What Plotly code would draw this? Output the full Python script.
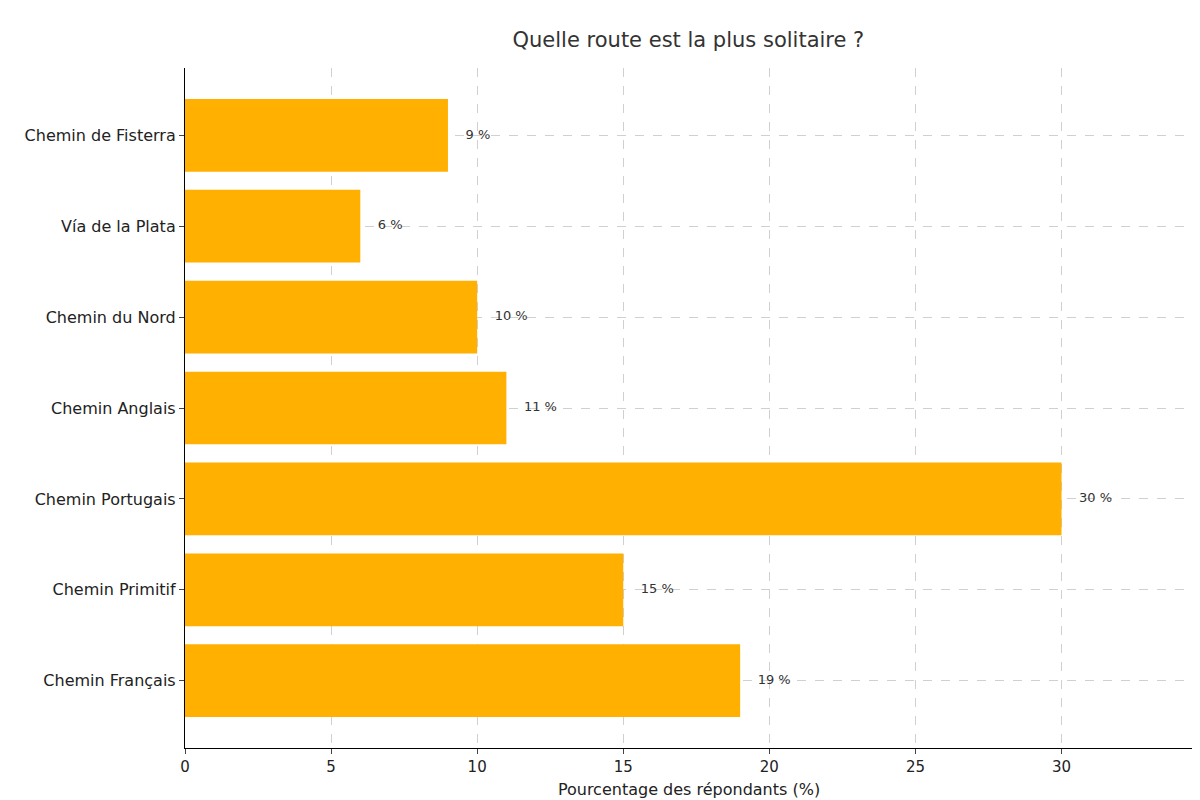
import plotly.graph_objects as go

routes = ["Chemin Français", "Chemin Primitif", "Chemin Portugais", "Chemin Anglais",
          "Chemin du Nord", "Vía de la Plata", "Chemin de Fisterra"]
pourcentages = [19, 15, 30, 11, 10, 6, 9]
etiquettes = [f"{v} %" for v in pourcentages]

fig = go.Figure()
fig.add_trace(go.Bar(
    y=routes, x=pourcentages, orientation='h', width=0.8,
    marker={'color': '#FFB000', 'line': {'width': 0}},
    showlegend=False,
))
fig.add_trace(go.Scatter(
    y=routes, x=[v + 0.6 for v in pourcentages], mode='text',
    text=etiquettes, textposition='middle right',
    textfont={'size': 13, 'color': '#333333'}, showlegend=False,
))

fig.update_layout(
    width=1200, height=800,
    plot_bgcolor='white', paper_bgcolor='white',
    font={'family': 'DejaVu Sans', 'color': '#222222'},
    title={'text': "Quelle route est la plus solitaire ?", 'x': 0.567, 'y': 0.97,
           'xanchor': 'center', 'font': {'size': 21, 'color': '#333333'}},
    margin={'l': 177, 'r': 15, 't': 60, 'b': 60},
)
fig.update_xaxes(
    range=[0, 34.5], tickvals=[0, 5, 10, 15, 20, 25, 30],
    showgrid=True, gridcolor='#d0d0d0', griddash='dash', gridwidth=1,
    showline=True, linecolor='black', linewidth=1.2, ticks='outside', ticklen=5,
    tickfont={'size': 15}, zeroline=False,
    title={'text': "Pourcentage des répondants (%)", 'font': {'size': 16}, 'standoff': 8},
)
fig.update_yaxes(
    categoryorder='array', categoryarray=routes, range=[-0.74, 6.74],
    showgrid=True, gridcolor='#d0d0d0', griddash='dash', gridwidth=1,
    showline=True, linecolor='black', linewidth=1.2, ticks='outside', ticklen=5,
    tickfont={'size': 16}, zeroline=False,
)

fig.write_html("out.html")
